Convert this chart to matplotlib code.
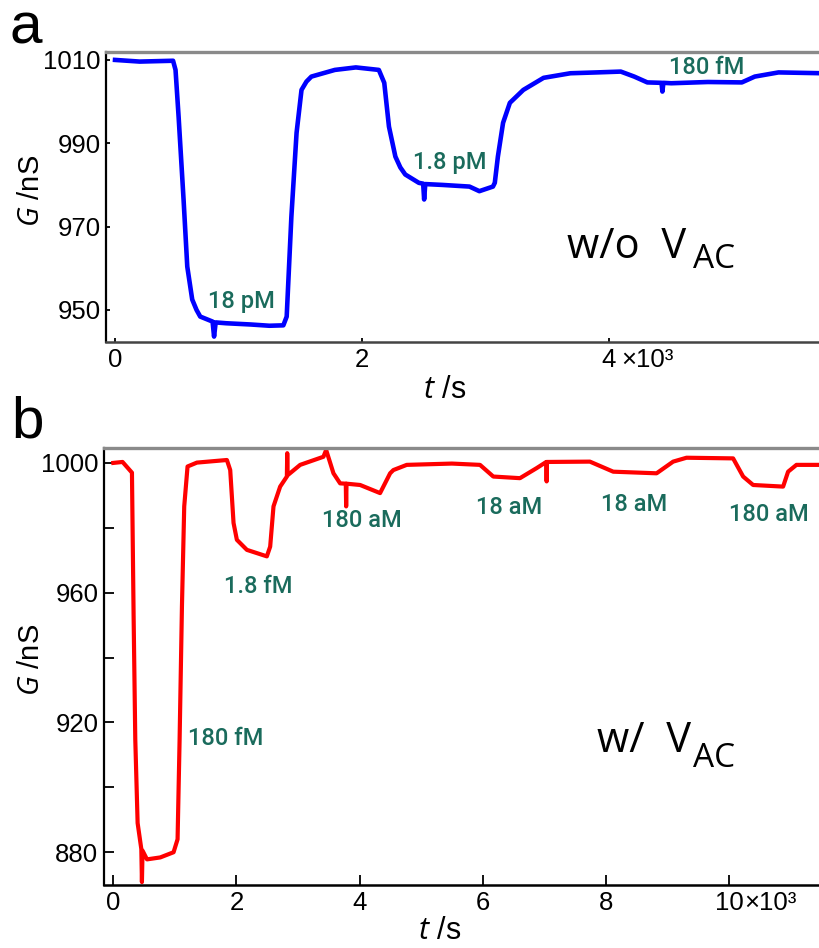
import matplotlib
matplotlib.use('Agg')
import matplotlib.pyplot as plt

plt.rcParams['font.family'] = ['Liberation Sans', 'DejaVu Sans']
plt.rcParams['mathtext.fontset'] = 'custom'
plt.rcParams['mathtext.it'] = 'Open Sans:italic'
plt.rcParams['mathtext.rm'] = 'Open Sans'

# panel a: G(t) without V_AC (blue trace)
t_a = [0, 200, 470, 490, 515, 555, 585, 625, 660, 690, 790,
       802, 815, 900, 1100, 1250, 1363, 1390, 1428, 1470, 1510,
       1550, 1590, 1780, 1950, 2136, 2180, 2218, 2270, 2310, 2350, 2460, 2495,
       2503, 2512, 2650, 2870, 2950, 3060, 3075, 3100, 3142, 3197,
       3306, 3470, 3687, 3900, 4095, 4204, 4310, 4425, 4432, 4440,
       4504, 4800, 5075, 5180, 5372, 5730]
g_a = [1010, 1009.6, 1009.8, 1007.6, 996.3, 976.5, 960.4, 952.5, 950, 948.4, 947.2,
       943.6, 947.0, 946.8, 946.5, 946.2, 946.3, 948.4, 972.4, 992.5, 1002.8,
       1004.8, 1006, 1007.6, 1008.2, 1007.6, 1004.5, 994, 986.8, 984.2, 982.5, 980.5, 980.3,
       976.5, 980.2, 980, 979.6, 978.5, 979.6, 980.5, 986.8, 994.9, 999.7,
       1002.8, 1005.7, 1006.8, 1007.0, 1007.2, 1006, 1004.6, 1004.5, 1002.4, 1004.5,
       1004.4, 1004.7, 1004.6, 1006, 1007, 1006.8]

# panel b: G(t) with V_AC (red trace)
t_b = [0, 150, 303, 330, 357, 395, 455, 465, 475, 547,
       763, 979, 1044, 1077, 1115, 1152, 1206, 1358, 1600, 1845,
       1899, 1953, 2007, 2170, 2494, 2548, 2602, 2710, 2819, 2825,
       2831, 3035, 3413, 3457, 3576, 3684, 3776, 3782, 3788, 4009,
       4333, 4496, 4549, 4766, 5500, 5956, 6172, 6605, 6876, 7032,
       7038, 7044, 7741, 8120, 8824, 9093, 9310, 10067, 10230, 10392,
       10879, 10960, 11096, 11458]
g_b = [1000, 1000.3, 997, 952.7, 914.8, 889, 881, 870.8, 880.5, 877.8,
       878.4, 880, 884, 914.8, 955.8, 986.6, 998.9, 1000.1, 1000.5, 1000.9,
       997.8, 981.5, 976.3, 973.2, 971.2, 974.2, 986.6, 992.7, 995.8, 1003,
       996.2, 999.4, 1001.9, 1004, 996.8, 993.7, 993.6, 986.6, 993.6, 993.2,
       990.7, 996.8, 997.8, 999.4, 999.8, 999.4, 995.8, 995.3, 998.4, 1000.3,
       994.3, 1000.3, 1000.4, 997.3, 996.8, 1000.4, 1001.6, 1001.4, 995.8, 993.2,
       992.7, 997.3, 999.4, 999.4]

# concentration labels
conc_a = ['18 pM', '1.8 pM', '180 fM']
conc_t_a = [1020, 2712, 4790]
conc_g_a = [952, 985.5, 1008.1]
conc_b = ['180 fM', '1.8 fM', '180 aM', '18 aM', '18 aM', '180 aM']
conc_t_b = [1830, 2350, 4040, 6427, 8457, 10650]
conc_g_b = [915.2, 961.8, 982.4, 986.4, 987.1, 984]

teal = '#1a6b5c'

fig = plt.figure(figsize=(8.19, 9.48), dpi=100)
ax1 = fig.add_axes([106/819, 1-342/948, 713/819, 290/948])
ax2 = fig.add_axes([104/819, 1-885/948, 715/819, 437/948])


def style(ax, ticklen, bottom_color):
    ax.spines['right'].set_visible(False)
    ax.spines['top'].set_color('#8a8a8a')
    ax.spines['top'].set_linewidth(2.4)
    ax.spines['left'].set_linewidth(1.6)
    ax.spines['bottom'].set_linewidth(1.8)
    ax.spines['bottom'].set_color(bottom_color)
    ax.tick_params(direction='in', length=ticklen, width=1.3, labelsize=18.5,
                   pad=4, top=False, right=False)


# ---- panel a
ax1.plot(t_a, g_a, color='#0000ff', lw=3.3, solid_joinstyle='round')
ax1.set_xlim(-73, 5700)
ax1.set_ylim(942.3, 1011.9)
ax1.set_xticks([0, 2000, 4000])
ax1.set_xticklabels(['0', '2', '4'])
ax1.set_yticks([950, 970, 990, 1010])
style(ax1, 3, '#444444')
for s, t, g in zip(conc_a, conc_t_a, conc_g_a):
    ax1.text(t, g, s, color=teal, fontsize=17, ha='center', va='center',
             family=['Roboto', 'DejaVu Sans'], fontweight='medium')
ax1.text(3660, 962.5, 'w/o  V', fontsize=30, family=['Open Sans', 'DejaVu Sans'],
         va='baseline', ha='left')
ax1.text(4680, 960.1, 'AC', fontsize=24, family=['Open Sans', 'DejaVu Sans'],
         va='baseline', ha='left')
ax1.annotate('×10³', xy=(4000, 0), xycoords=ax1.get_xaxis_transform(),
             xytext=(12, -6), textcoords='offset pixels', ha='left', va='top',
             fontsize=18.5)
ax1.set_ylabel(r'$\it{G}$ /nS', fontsize=21)
ax1.yaxis.set_label_coords(-0.085, 0.52)
ax1.set_xlabel(r'$\it{t}$ /s', fontsize=22)
ax1.xaxis.set_label_coords(0.475, -0.115)

# ---- panel b
ax2.plot(t_b, g_b, color='#ff0000', lw=3.0, solid_joinstyle='round')
ax2.set_xlim(-151, 11462)
ax2.set_ylim(869.9, 1004.6)
ax2.set_xticks([0, 2000, 4000, 6000, 8000, 10000])
ax2.set_xticklabels(['0', '2', '4', '6', '8', '10'])
ax2.set_yticks([880, 900, 920, 940, 960, 980, 1000])
ax2.set_yticklabels(['880', '', '920', '', '960', '', '1000'])
style(ax2, 7, 'black')
for s, t, g in zip(conc_b, conc_t_b, conc_g_b):
    ax2.text(t, g, s, color=teal, fontsize=17, ha='center', va='center',
             family=['Roboto', 'DejaVu Sans'], fontweight='medium')
ax2.text(7855, 910.9, 'w/  V', fontsize=30, family=['Open Sans', 'DejaVu Sans'],
         va='baseline', ha='left')
ax2.text(9415, 906.3, 'AC', fontsize=24, family=['Open Sans', 'DejaVu Sans'],
         va='baseline', ha='left')
ax2.annotate('×10³', xy=(10000, 0), xycoords=ax2.get_xaxis_transform(),
             xytext=(15, -6), textcoords='offset pixels', ha='left', va='top',
             fontsize=18.5)
ax2.set_ylabel(r'$\it{G}$ /nS', fontsize=21)
ax2.yaxis.set_label_coords(-0.083, 0.515)
ax2.set_xlabel(r'$\it{t}$ /s', fontsize=22)
ax2.xaxis.set_label_coords(0.47, -0.07)

# panel letters
fig.text(10/819, 1-43/948, 'a', fontsize=42, va='baseline')
fig.text(11/819, 1-437/948, 'b', fontsize=42, va='baseline')

fig.savefig('out.png', dpi=100)
